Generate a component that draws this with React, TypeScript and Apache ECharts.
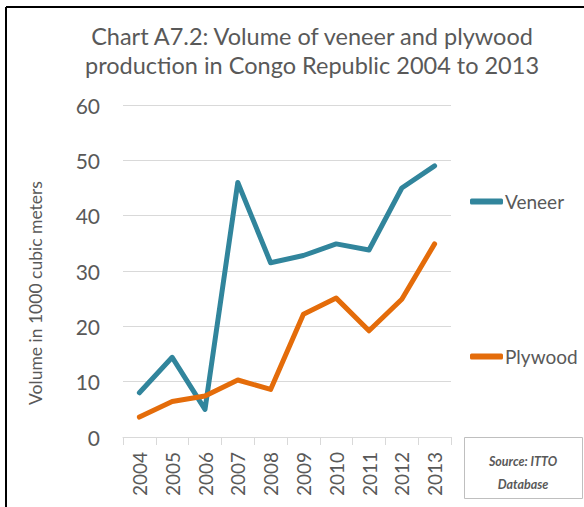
import React, { useEffect, useRef } from "react";
import * as echarts from "echarts";

const years = ["2004", "2005", "2006", "2007", "2008", "2009", "2010", "2011", "2012", "2013"];
const veneer = [8, 14.4, 5, 46, 31.5, 32.8, 34.9, 33.8, 45, 49];
const plywood = [3.6, 6.4, 7.4, 10.3, 8.6, 22.2, 25.1, 19.2, 24.9, 34.9];
const yTicks = { min: 0, max: 60, interval: 10 };

const FONT = "Lato";
const GREY = "#595959";

export default function App() {
  const ref = useRef<HTMLDivElement>(null);
  useEffect(() => {
    if (!ref.current) return;
    const chart = echarts.init(ref.current, null, { renderer: "svg" });
    chart.setOption({
      animation: false,
      backgroundColor: "#ffffff",
      textStyle: { fontFamily: FONT },
      title: {
        text: "Chart A7.2: Volume of veneer and plywood\nproduction in Congo Republic 2004 to 2013",
        left: 312,
        top: 21,
        padding: 0,
        textAlign: "center",
        textStyle: { fontFamily: FONT, fontSize: 23.5, lineHeight: 29, fontWeight: "normal", color: GREY },
      },
      legend: [
        {
          data: ["Veneer"],
          left: 470,
          top: 192,
          padding: 0,
          icon: "roundRect",
          itemWidth: 33,
          itemHeight: 6,
          itemGap: 0,
          textStyle: { fontFamily: FONT, fontSize: 19, color: GREY, padding: [0, 0, 0, -3] },
        },
        {
          data: ["Plywood"],
          left: 470,
          top: 347,
          padding: 0,
          icon: "roundRect",
          itemWidth: 33,
          itemHeight: 6,
          itemGap: 0,
          textStyle: { fontFamily: FONT, fontSize: 19, color: GREY, padding: [0, 0, 0, -3] },
        },
      ],
      grid: { left: 123, right: 133, top: 105, bottom: 70, containLabel: false },
      xAxis: {
        type: "category",
        data: years,
        boundaryGap: true,
        axisLine: { show: true, lineStyle: { color: "#D9D9D9", width: 1 } },
        axisTick: { show: true, length: 8, lineStyle: { color: "#D9D9D9" } },
        axisLabel: { rotate: 90, fontSize: 19, color: GREY, margin: 15, fontFamily: FONT },
      },
      yAxis: {
        type: "value",
        min: yTicks.min,
        max: yTicks.max,
        interval: yTicks.interval,
        axisLine: { show: false },
        axisTick: { show: false },
        splitLine: { lineStyle: { color: "#D9D9D9", width: 1 } },
        axisLabel: { fontSize: 21, color: GREY, margin: 23, fontFamily: FONT },
      },
      series: [
        {
          name: "Veneer",
          type: "line",
          data: veneer,
          symbol: "none",
          lineStyle: { color: "#31859C", width: 5, cap: "round", join: "round" },
          itemStyle: { color: "#31859C" },
        },
        {
          name: "Plywood",
          type: "line",
          data: plywood,
          symbol: "none",
          lineStyle: { color: "#E46C0A", width: 5, cap: "round", join: "round" },
          itemStyle: { color: "#E46C0A" },
        },
      ],
      graphic: [
        { type: "line", shape: { x1: 6, y1: 7, x2: 584, y2: 7 }, style: { stroke: "#000", lineWidth: 2 } },
        { type: "line", shape: { x1: 6, y1: 7, x2: 6, y2: 507 }, style: { stroke: "#000", lineWidth: 2 } },
        {
          type: "text",
          x: 35,
          y: 293,
          rotation: Math.PI / 2,
          style: {
            text: "Volume in 1000 cubic meters",
            fontFamily: FONT,
            fontSize: 17.5,
            fill: GREY,
            textAlign: "center",
            textVerticalAlign: "middle",
          },
        },
        {
          type: "rect",
          shape: { x: 464.5, y: 437.5, width: 118, height: 61 },
          style: { fill: "#fff", stroke: "#BFBFBF", lineWidth: 1 },
        },
        {
          type: "text",
          x: 523,
          y: 473,
          style: {
            text: "Source: ITTO\nDatabase",
            fontFamily: FONT,
            fontSize: 12.5,
            lineHeight: 23,
            fontWeight: "bold",
            fontStyle: "italic",
            fill: GREY,
            textAlign: "center",
            textVerticalAlign: "middle",
          },
        },
      ],
    });
    return () => chart.dispose();
  }, []);
  return (
    <div
      ref={ref}
      style={{ position: "fixed", left: 0, top: 0, width: 584, height: 507 }}
    />
  );
}
